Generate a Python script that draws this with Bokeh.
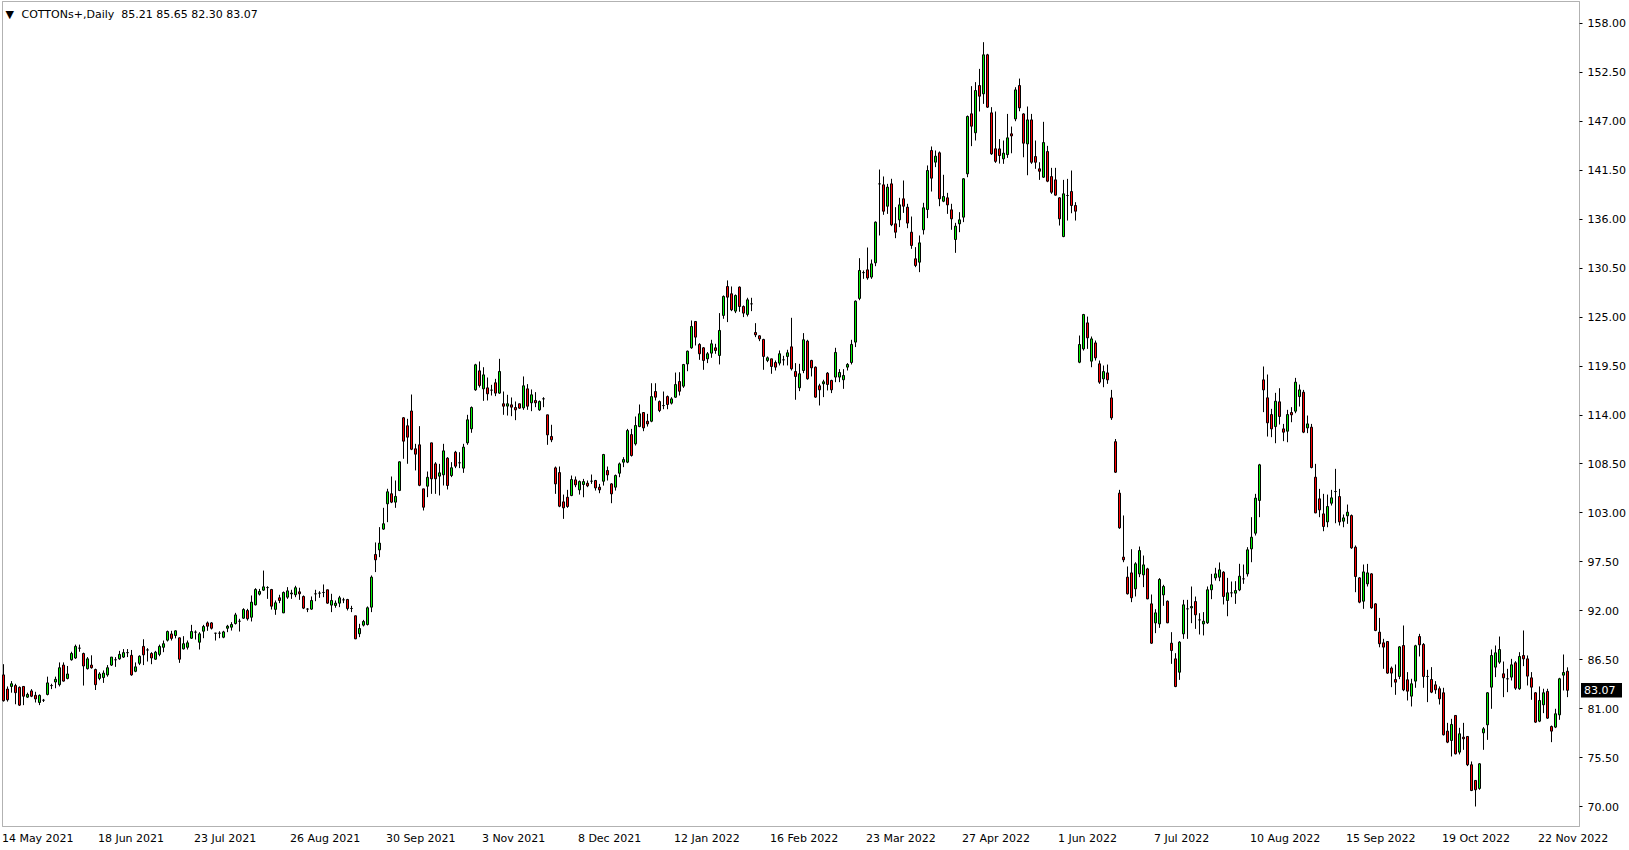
from bokeh.plotting import figure
from bokeh.models import (ColumnDataSource, FixedTicker, Label, LabelSet, Range1d,
                          PrintfTickFormatter, LinearAxis, BoxAnnotation)
from bokeh.core.properties import value
from bokeh.embed import file_html
from bokeh.resources import INLINE

opens = [
84.8, 83.2, 83.5, 83.6, 83.4, 83.5, 82.3, 83.0, 82.5, 81.7,
81.95, 82.6, 83.6, 84.0, 83.7, 85.9, 84.4, 86.5, 86.7, 87.8,
87.2, 85.5, 85.9, 85.4, 84.4, 84.5, 84.8, 85.9, 86.5, 86.6,
86.8, 87.3, 87.0, 85.2, 86.1, 88.0, 87.6, 87.2, 86.56, 87.1,
87.9, 88.7, 89.4, 89.22, 88.96, 87.72, 87.9, 88.92, 89.6, 88.47,
89.71, 90.64, 90.64, 89.48, 89.48, 89.03, 90.04, 90.16, 90.57, 90.83,
91.17, 92.03, 91.28, 92.67, 93.87, 94.32, 94.61, 94.39, 92.16, 93.46,
91.77, 93.53, 93.9, 93.8, 94.13, 93.61, 92.19, 92.19, 93.91, 93.98,
94.06, 94.36, 92.64, 92.6, 92.86, 93.23, 93.27, 92.26, 91.44, 89.42,
90.39, 90.46, 92.41, 98.33, 98.85, 101.18, 104.02, 105.15, 104.21, 105.52,
113.69, 112.79, 114.45, 110.2, 110.65, 105.7, 106.0, 110.87, 108.51, 107.13,
107.28, 109.15, 107.2, 109.82, 108.63, 108.03, 110.87, 112.45, 116.83, 118.96,
116.94, 117.05, 116.79, 117.62, 116.46, 115.26, 115.0, 115.14, 114.84, 115.26,
114.8, 116.94, 115.37, 115.63, 114.58, 115.82, 114.02, 111.59, 108.06, 107.53,
104.24, 104.76, 104.95, 106.71, 105.59, 106.19, 106.34, 106.56, 106.64, 105.89,
106.56, 107.76, 106.26, 105.89, 107.46, 108.7, 108.7, 111.8, 110.76, 112.7,
114.28, 113.3, 113.3, 116.64, 115.51, 115.06, 116.07, 115.33, 116.0, 117.76,
117.24, 119.74, 121.55, 124.51, 121.93, 121.55, 120.31, 120.95, 121.55, 120.69,
125.19, 128.44, 127.62, 125.67, 128.37, 126.19, 125.3, 126.49, 123.27, 122.9,
122.49, 120.13, 120.31, 119.9, 119.83, 120.2, 120.58, 121.66, 118.89, 117.06,
119.0, 122.3, 120.13, 119.38, 117.28, 117.51, 118.7, 117.88, 118.26, 118.26,
117.96, 119.38, 119.9, 122.19, 127.1, 130.0, 130.31, 129.5, 131.1, 139.97,
139.86, 137.46, 139.97, 135.48, 135.93, 138.29, 137.35, 134.54, 131.55, 131.17,
134.81, 137.09, 143.72, 142.41, 143.46, 138.02, 138.4, 137.05, 133.72, 135.48,
136.23, 141.1, 147.84, 145.71, 151.02, 150.09, 154.47, 147.95, 143.91, 143.9,
142.78, 143.26, 145.59, 147.27, 151.02, 147.83, 144.46, 147.16, 143.04, 141.66,
140.72, 143.6, 140.79, 140.42, 138.4, 134.05, 138.66, 139.11, 137.54, 119.93,
121.43, 124.35, 120.05, 122.1, 119.75, 118.06, 118.73, 115.92, 111.0, 105.22,
98.03, 95.78, 96.26, 94.47, 96.15, 96.04, 96.71, 92.78, 90.64, 90.53,
93.79, 93.08, 88.36, 86.6, 85.1, 89.41, 92.22, 92.33, 93.04, 90.98,
90.53, 90.65, 94.36, 95.7, 95.78, 96.34, 93.16, 94.02, 93.98, 94.35,
95.59, 96.15, 98.96, 100.72, 104.4, 117.95, 115.93, 114.05, 112.7, 115.48,
112.44, 112.18, 114.28, 114.43, 116.07, 116.56, 112.55, 112.63, 107.01, 104.58,
102.89, 101.99, 104.09, 105.4, 104.84, 102.07, 102.67, 102.7, 99.15, 95.7,
93.08, 95.03, 96.15, 92.78, 89.6, 88.4, 88.55, 85.56, 84.28, 84.62,
88.1, 84.25, 82.41, 84.1, 89.11, 88.22, 84.62, 84.28, 83.68, 83.24,
82.79, 78.48, 77.43, 80.24, 76.12, 77.8, 77.88, 74.7, 72.94, 72.04,
78.29, 79.19, 83.42, 85.67, 86.23, 84.92, 84.36, 84.55, 86.16, 83.24,
86.98, 86.6, 84.47, 82.79, 79.6, 81.44, 82.94, 79.0, 78.93, 80.31,
84.77, 85.21,
]

highs = [
86.0, 83.5, 84.1, 83.8, 83.5, 83.5, 82.8, 83.2, 82.9, 82.6,
82.1, 84.6, 83.8, 84.6, 86.2, 86.2, 85.8, 87.4, 88.2, 88.2,
87.3, 86.8, 87.0, 85.5, 85.1, 85.3, 85.9, 86.8, 86.8, 87.5,
87.7, 87.7, 87.6, 86.2, 87.0, 88.8, 87.8, 87.35, 87.5, 88.2,
88.66, 89.78, 89.75, 89.8, 89.0, 89.15, 88.66, 90.42, 89.8, 89.6,
90.42, 90.8, 90.72, 89.52, 89.7, 89.75, 90.42, 90.72, 91.77, 91.1,
92.29, 92.22, 93.72, 94.54, 94.46, 96.52, 94.76, 94.46, 93.16, 93.8,
94.17, 94.66, 94.36, 94.81, 94.59, 93.72, 92.3, 93.61, 94.36, 94.2,
94.96, 94.36, 93.91, 93.16, 93.68, 93.46, 93.34, 92.56, 91.44, 90.54,
90.98, 92.49, 95.97, 99.68, 101.4, 103.57, 105.71, 107.09, 106.64, 108.78,
113.76, 113.57, 116.3, 110.76, 112.75, 105.7, 107.65, 110.87, 108.7, 108.51,
110.76, 109.26, 108.7, 109.97, 109.82, 110.76, 114.02, 114.96, 119.75, 120.01,
119.37, 118.21, 117.39, 118.06, 120.31, 116.64, 116.27, 115.97, 115.52, 115.26,
118.33, 117.47, 116.87, 116.57, 115.63, 116.0, 114.02, 112.9, 108.21, 108.21,
105.06, 105.59, 107.2, 107.09, 106.64, 106.82, 106.64, 107.31, 106.71, 106.26,
109.63, 108.21, 106.34, 107.31, 108.66, 109.26, 112.44, 112.44, 113.83, 115.18,
114.32, 114.13, 117.57, 117.57, 115.63, 116.64, 116.19, 116.0, 118.77, 118.81,
119.74, 121.24, 124.62, 124.51, 122.07, 121.63, 121.07, 122.45, 122.0, 125.45,
127.43, 129.12, 128.44, 127.54, 128.44, 126.31, 127.17, 127.17, 124.32, 122.94,
122.56, 120.58, 120.31, 120.13, 121.25, 120.65, 121.33, 124.92, 119.83, 119.75,
123.2, 122.45, 120.2, 119.45, 117.51, 117.96, 118.82, 117.96, 121.55, 119.15,
119.15, 119.83, 122.45, 126.87, 131.62, 130.24, 132.82, 131.47, 135.75, 141.58,
140.8, 139.97, 140.54, 137.35, 138.4, 140.35, 137.73, 136.3, 132.86, 134.17,
137.84, 142.04, 144.17, 143.72, 143.61, 140.99, 138.96, 137.73, 135.59, 136.79,
140.61, 147.65, 150.95, 151.4, 152.89, 155.89, 154.58, 148.59, 148.1, 145.0,
144.84, 147.83, 146.41, 150.83, 151.8, 147.9, 148.66, 147.83, 144.84, 142.4,
146.94, 144.24, 141.77, 141.77, 138.47, 140.42, 140.53, 141.47, 137.91, 122.93,
125.36, 125.06, 122.82, 122.37, 120.12, 119.56, 119.67, 116.82, 111.3, 105.59,
102.71, 96.98, 98.92, 97.46, 99.22, 98.21, 96.83, 93.83, 92.18, 95.67,
94.92, 93.16, 89.6, 87.24, 88.59, 93.23, 93.23, 94.73, 93.6, 91.73,
91.85, 94.73, 96.15, 96.83, 97.43, 96.45, 95.7, 95.29, 95.33, 97.28,
97.2, 99.15, 102.52, 105.14, 108.51, 119.45, 118.55, 114.69, 116.49, 117.01,
113.0, 114.58, 114.88, 118.17, 117.42, 116.82, 113.94, 113.0, 108.51, 105.7,
105.14, 105.06, 105.59, 107.95, 105.7, 102.82, 103.94, 102.82, 99.34, 95.78,
97.2, 97.27, 96.22, 92.85, 91.2, 88.85, 88.59, 85.74, 85.97, 88.03,
90.35, 85.11, 84.36, 88.18, 89.41, 88.37, 85.37, 85.67, 84.1, 83.5,
83.35, 79.41, 79.86, 80.24, 78.85, 79.41, 77.88, 75.07, 72.94, 74.88,
78.93, 82.86, 87.65, 88.1, 89.11, 86.3, 85.48, 86.6, 86.34, 87.35,
89.79, 86.98, 85.11, 82.86, 83.5, 83.24, 83.24, 79.11, 80.99, 84.47,
87.09, 85.65,
]

lows = [
81.8, 81.8, 82.8, 81.5, 81.3, 81.4, 82.2, 82.3, 81.7, 81.4,
81.75, 82.5, 83.2, 83.3, 83.5, 84.05, 84.3, 86.4, 86.6, 87.4,
83.6, 85.4, 85.5, 83.1, 84.2, 83.9, 84.6, 85.8, 85.7, 86.5,
86.7, 86.8, 84.7, 85.1, 85.9, 85.9, 86.3, 86.0, 86.5, 86.9,
87.35, 88.55, 88.66, 88.9, 86.15, 87.65, 87.65, 88.85, 88.77, 87.65,
88.92, 89.75, 89.9, 88.66, 88.92, 88.92, 89.6, 89.78, 90.46, 89.67,
91.1, 90.9, 90.8, 92.6, 93.72, 94.24, 93.34, 92.14, 91.55, 92.86,
91.74, 93.34, 93.34, 93.53, 93.23, 92.19, 91.85, 92.11, 93.08, 93.46,
93.53, 92.79, 91.85, 92.34, 92.41, 92.86, 92.04, 91.85, 88.82, 89.04,
90.24, 90.35, 91.85, 96.35, 98.03, 101.1, 101.96, 104.1, 103.57, 105.45,
109.08, 108.52, 110.05, 107.77, 106.0, 103.27, 104.77, 105.14, 105.14, 104.96,
106.08, 105.63, 107.02, 108.03, 108.03, 107.5, 110.65, 112.0, 116.72, 117.09,
115.59, 115.63, 116.19, 116.12, 116.38, 114.02, 113.94, 113.87, 113.42, 114.69,
114.58, 114.58, 114.43, 114.88, 114.47, 114.88, 110.65, 110.95, 105.14, 103.64,
102.33, 103.57, 104.88, 105.89, 105.06, 104.76, 105.89, 106.26, 105.51, 105.21,
106.07, 106.64, 104.09, 105.51, 107.01, 108.14, 108.59, 109.33, 110.57, 112.63,
112.18, 112.7, 113.19, 115.63, 114.32, 114.65, 114.65, 115.18, 115.93, 116.19,
117.05, 118.92, 121.44, 121.81, 120.2, 119.08, 119.83, 120.43, 120.88, 119.68,
124.81, 124.44, 125.67, 125.45, 125.6, 125.0, 125.07, 125.67, 122.75, 122.3,
119.08, 119.94, 118.63, 119.0, 119.57, 119.57, 119.57, 119.0, 115.71, 116.68,
118.7, 117.96, 118.33, 115.93, 115.07, 116.01, 116.76, 116.46, 117.69, 117.69,
116.94, 119.0, 119.68, 121.63, 126.9, 129.3, 129.2, 129.3, 130.72, 134.17,
136.49, 136.6, 135.22, 133.87, 135.11, 136.71, 134.99, 132.67, 130.61, 130.05,
134.28, 136.12, 139.11, 141.85, 137.46, 137.91, 136.6, 134.81, 132.22, 134.54,
135.67, 140.72, 144.21, 144.84, 148.1, 148.96, 148.5, 143.23, 142.33, 142.25,
142.22, 142.89, 143.41, 147.01, 148.13, 142.96, 140.94, 142.22, 141.66, 140.42,
140.64, 140.16, 138.85, 138.66, 135.29, 133.98, 135.85, 136.67, 135.85, 119.82,
121.24, 121.43, 119.37, 120.12, 117.5, 117.12, 117.5, 113.45, 107.5, 101.21,
97.46, 93.83, 92.97, 93.61, 95.78, 94.66, 93.3, 88.29, 89.49, 90.08,
92.56, 90.61, 86.04, 83.42, 84.24, 88.85, 88.85, 90.61, 89.97, 89.34,
89.23, 90.53, 93.31, 95.4, 95.33, 92.71, 91.39, 93.53, 92.78, 94.21,
95.03, 95.85, 97.46, 100.46, 102.52, 114.32, 111.58, 111.51, 110.83, 112.93,
111.06, 110.94, 113.19, 114.2, 114.95, 111.96, 111.96, 108.0, 102.97, 102.52,
100.94, 101.39, 103.83, 101.84, 101.58, 101.39, 101.77, 98.96, 94.09, 92.85,
92.22, 94.73, 92.22, 89.71, 87.9, 85.48, 84.92, 83.42, 82.56, 84.32,
82.97, 81.92, 81.25, 83.35, 86.87, 83.35, 81.74, 82.75, 82.67, 81.47,
77.99, 77.13, 75.63, 75.86, 75.86, 76.38, 74.55, 71.74, 70.01, 71.89,
76.38, 77.5, 80.99, 84.55, 86.04, 82.3, 82.86, 84.17, 83.12, 83.12,
85.78, 83.61, 82.0, 79.41, 79.49, 80.5, 79.86, 77.24, 78.82, 79.75,
83.05, 82.30,
]

closes = [
81.9, 82.0, 83.8, 82.8, 81.4, 82.4, 82.6, 82.4, 82.1, 82.5,
81.95, 83.9, 83.6, 84.3, 85.6, 84.1, 84.9, 87.2, 88.0, 87.8,
85.8, 86.6, 85.6, 83.7, 84.9, 85.0, 85.6, 86.8, 86.5, 87.1,
87.3, 87.3, 84.8, 85.7, 86.9, 87.05, 87.6, 86.7, 87.35, 88.0,
88.3, 89.67, 88.9, 89.75, 86.56, 88.3, 88.4, 89.67, 89.6, 89.41,
90.23, 90.27, 90.04, 89.48, 89.48, 89.63, 90.27, 90.46, 91.54, 90.83,
92.14, 91.1, 92.97, 94.39, 94.17, 94.69, 94.61, 92.52, 92.9, 93.16,
94.06, 94.24, 94.0, 94.59, 93.91, 92.3, 92.19, 93.16, 93.91, 93.98,
94.06, 92.86, 93.16, 92.86, 93.46, 93.23, 92.26, 92.26, 88.85, 90.01,
90.8, 92.34, 95.78, 97.73, 99.6, 101.78, 105.37, 104.21, 104.85, 108.74,
111.06, 111.51, 110.15, 109.6, 106.1, 103.64, 107.0, 106.83, 106.83, 107.5,
109.97, 106.08, 108.07, 108.25, 108.63, 110.39, 113.46, 114.84, 119.64, 117.32,
118.51, 116.38, 116.79, 116.46, 118.89, 114.99, 115.26, 114.88, 114.58, 114.77,
117.28, 114.99, 116.27, 115.37, 115.52, 115.82, 111.77, 111.21, 106.26, 103.75,
103.57, 103.72, 106.75, 106.15, 106.52, 106.52, 106.04, 106.56, 105.81, 105.59,
109.56, 107.27, 105.14, 107.2, 108.51, 108.99, 112.25, 109.45, 112.82, 114.13,
112.55, 113.0, 116.07, 116.0, 114.5, 115.06, 115.18, 115.81, 117.42, 116.67,
119.67, 121.17, 123.95, 122.75, 120.88, 120.13, 120.88, 122.0, 121.25, 123.5,
127.32, 127.24, 125.82, 127.43, 126.19, 125.45, 126.94, 126.49, 123.01, 122.56,
120.58, 120.43, 119.45, 119.38, 120.88, 120.2, 120.99, 119.19, 118.33, 118.63,
122.45, 118.07, 119.3, 116.01, 116.83, 117.73, 117.43, 116.83, 121.03, 118.78,
118.44, 119.68, 121.93, 126.79, 130.24, 130.0, 129.4, 130.98, 135.67, 139.97,
136.9, 139.6, 135.37, 134.54, 137.61, 137.46, 135.56, 133.05, 130.8, 133.34,
137.28, 141.47, 140.61, 143.08, 138.29, 138.55, 137.61, 136.04, 135.22, 135.93,
140.54, 147.54, 146.45, 150.46, 149.82, 154.47, 148.59, 143.34, 142.5, 143.15,
143.42, 145.14, 145.36, 150.53, 148.51, 144.54, 147.16, 142.4, 142.4, 141.39,
144.61, 140.27, 139.03, 138.7, 136.04, 138.85, 138.66, 137.54, 136.9, 121.92,
125.29, 122.67, 122.55, 120.42, 117.69, 118.88, 117.95, 113.68, 107.57, 101.32,
97.73, 93.91, 93.46, 97.28, 98.77, 97.16, 93.34, 88.36, 91.77, 95.52,
94.73, 90.65, 87.54, 83.49, 88.48, 92.67, 92.22, 92.48, 91.55, 90.98,
90.83, 94.36, 94.92, 96.15, 96.6, 93.61, 94.02, 94.02, 94.28, 95.89,
95.59, 98.85, 100.27, 104.66, 108.4, 116.82, 113.12, 112.44, 115.55, 113.83,
112.07, 114.05, 114.02, 117.69, 116.82, 112.07, 113.0, 108.1, 103.0, 103.34,
101.47, 103.72, 104.69, 105.4, 101.99, 102.44, 103.08, 99.07, 95.85, 92.97,
96.37, 96.26, 92.33, 89.79, 88.3, 87.92, 85.0, 85.0, 83.98, 87.95,
83.12, 82.97, 83.8, 88.07, 88.18, 84.62, 84.62, 82.86, 83.12, 82.11,
78.07, 77.24, 79.23, 75.93, 78.18, 77.62, 74.7, 71.81, 71.89, 74.81,
78.74, 82.79, 86.98, 87.28, 87.65, 84.47, 84.36, 85.93, 83.31, 86.87,
86.6, 84.66, 83.42, 79.49, 81.92, 82.79, 79.94, 78.48, 80.43, 84.36,
85.07, 83.07,
]

date_tick_bars = [0, 24, 48, 72, 96, 120, 144, 168, 192, 216, 240, 264, 288, 312, 336, 360, 384]
date_tick_labels = ["14 May 2021", "18 Jun 2021", "23 Jul 2021", "26 Aug 2021", "30 Sep 2021",
                    "3 Nov 2021", "8 Dec 2021", "12 Jan 2022", "16 Feb 2022", "23 Mar 2022",
                    "27 Apr 2022", "1 Jun 2022", "7 Jul 2022", "10 Aug 2022", "15 Sep 2022",
                    "19 Oct 2022", "22 Nov 2022"]
price_ticks = [70.0, 75.5, 81.0, 86.5, 92.0, 97.5, 103.0, 108.5, 114.0, 119.5,
               125.0, 130.5, 136.0, 141.5, 147.0, 152.5, 158.0]

symbol_title = "COTTONs+,Daily\u00a0\u00a085.21 85.65 82.30 83.07"
last_price = 83.07

BULL = "#00F000"
BEAR = "#FF0000"
FONT = "DejaVu Sans"

# ---- layout helpers (pixel geometry of the page -> data units) ----
W, H = 1629, 850
PX_PER_BAR, BAR0_PX = 4.0, 3.0
PX_PER_PRICE, REF_PRICE, REF_PRICE_PX = 8.9, 158.0, 22.9


def bx(px):
    return (px - BAR0_PX) / PX_PER_BAR


def py(pix):
    return REF_PRICE - (pix - REF_PRICE_PX) / PX_PER_PRICE


n = len(opens)
xs = list(range(n))
tops = [max(o, c) for o, c in zip(opens, closes)]
bots = [min(o, c) for o, c in zip(opens, closes)]
cols = [BULL if c > o else (BEAR if c < o else "black") for o, c in zip(opens, closes)]
src = ColumnDataSource(dict(x=xs, high=highs, low=lows, top=tops, bottom=bots, color=cols))

p = figure(width=W, height=H, x_range=Range1d(bx(0), bx(W)), y_range=Range1d(py(H), py(0)),
           output_backend="svg", toolbar_location=None,
           x_axis_location=None, y_axis_location=None, min_border=0,
           background_fill_color="white", border_fill_color="white")
p.grid.visible = False
p.outline_line_color = None

# chart border
left_b, right_b, top_b, bot_b = bx(2.0), bx(1579.0), py(1.0), py(826.0)
p.add_layout(BoxAnnotation(left=left_b, right=right_b, top=top_b, bottom=bot_b,
                           fill_alpha=0, line_color="black", line_width=1, level="underlay"))

# candles
p.segment(x0="x", y0="low", x1="x", y1="high", source=src, line_color="black", line_width=1)
p.vbar(x="x", width=0.5, top="top", bottom="bottom", source=src,
       fill_color="color", line_color="black", line_width=1)

# price scale (real axis, placed at the chart's right border)
ya = LinearAxis(fixed_location=right_b)
ya.ticker = FixedTicker(ticks=price_ticks)
ya.formatter = PrintfTickFormatter(format="%.2f")
ya.major_label_text_font = FONT
ya.major_label_text_font_size = "11px"
ya.major_label_text_color = "black"
ya.major_tick_out = 3
ya.major_tick_in = 0
ya.minor_tick_out = 0
ya.minor_tick_in = 0
ya.major_label_standoff = 5
ya.axis_line_color = None
ya.major_tick_line_color = "black"
p.add_layout(ya, "right")

# time scale labels
date_src = ColumnDataSource(dict(x=[b - 0.4 for b in date_tick_bars],
                                 y=[py(837.5)] * len(date_tick_bars),
                                 text=date_tick_labels))
p.add_layout(LabelSet(x="x", y="y", text="text", source=date_src,
                      text_font=value(FONT), text_font_size=value("11px"), text_color="black",
                      text_align="left", text_baseline="middle"))

# header
p.add_layout(Label(x=bx(5), y=py(13.5), text="\u25bc", text_font=FONT, text_font_size="11px",
                   text_color="black", text_align="left", text_baseline="middle"))
p.add_layout(Label(x=bx(21), y=py(13.5), text=symbol_title, text_font=FONT,
                   text_font_size="11px", text_color="black",
                   text_align="left", text_baseline="middle"))

# last price marker
half_h = 7.3 / PX_PER_PRICE
p.quad(left=[bx(1580.5)], right=[bx(1621.5)], top=[last_price + half_h],
       bottom=[last_price - half_h], fill_color="black", line_color=None)
p.add_layout(Label(x=bx(1583.5), y=last_price, text="%.2f" % last_price, text_font=FONT,
                   text_font_size="11px", text_color="white",
                   text_align="left", text_baseline="middle"))

open("out.html", "w").write(file_html(p, INLINE))
